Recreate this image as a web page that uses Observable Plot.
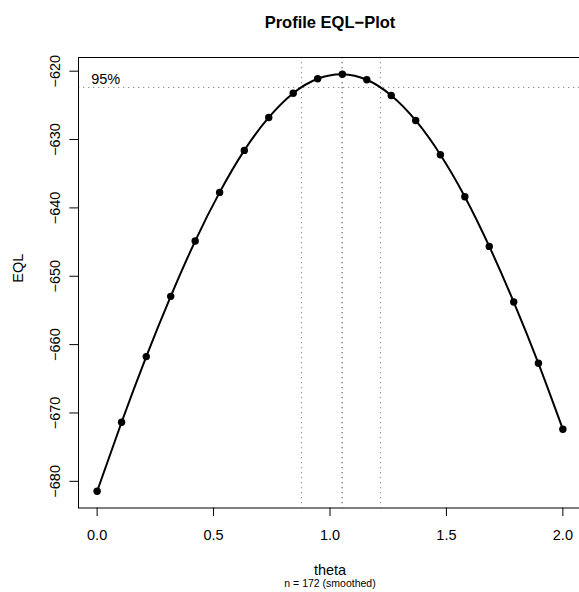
<!DOCTYPE html>
<html>
<head>
<meta charset="utf-8">
<script src="https://cdn.jsdelivr.net/npm/d3@7"></script>
<script src="https://cdn.jsdelivr.net/npm/@observablehq/plot@0.6"></script>
<style>
  html, body { margin: 0; padding: 0; background: white; overflow: hidden; }
</style>
</head>
<body>
<div id="chart"></div>
<script>
// Profile data
const theta = [0, 0.105, 0.211, 0.316, 0.421, 0.526, 0.632, 0.737, 0.842, 0.947,
               1.053, 1.158, 1.263, 1.368, 1.474, 1.579, 1.684, 1.789, 1.895, 2.0];
const eql = [-681.45, -671.36, -661.75, -652.94, -644.85, -637.73, -631.59, -626.77, -623.22, -621.11,
             -620.44, -621.26, -623.55, -627.21, -632.22, -638.36, -645.63, -653.77, -662.73, -672.38];
// Confidence interval (95%) markers
const ciLevel = -622.38;
const ciBounds = [0.878, 1.217];
const thetaHat = 1.052;
// Axis ticks
const xTicks = [0, 0.5, 1.0, 1.5, 2.0];
const yTicks = [-680, -670, -660, -650, -640, -630, -620];

const data = theta.map((t, i) => ({theta: t, eql: eql[i]}));
const font = "Liberation Sans, Arial, Helvetica, sans-serif";

const chart = Plot.plot({
  width: 579,
  height: 592,
  marginLeft: 78,
  marginTop: 57,
  marginBottom: 84.5,
  marginRight: -2,
  style: {fontFamily: font, fontSize: "14.5px", background: "white", color: "black"},
  x: {domain: [-0.08, 2.08]},
  y: {domain: [-683.9, -618.0]},
  marks: [
    // dotted reference lines
    Plot.ruleY([ciLevel], {stroke: "#8a8a8a", strokeDasharray: "1.3,3.7", strokeWidth: 1}),
    Plot.ruleX(ciBounds, {stroke: "#8a8a8a", strokeDasharray: "1.3,3.7", strokeWidth: 1}),
    Plot.ruleX([thetaHat], {stroke: "#444", strokeDasharray: "1.3,3.7", strokeWidth: 1}),
    Plot.text(["95%"], {frameAnchor: "left", y: () => ciLevel, text: d => d, dx: 12.7, dy: -3.7,
      textAnchor: "start", lineAnchor: "bottom", fontSize: 14.5}),
    // curve and points
    Plot.line(data, {x: "theta", y: "eql", curve: "natural", stroke: "black", strokeWidth: 2}),
    Plot.dot(data, {x: "theta", y: "eql", r: 3.7, fill: "black", stroke: "none"}),
    // axes
    Plot.axisX({ticks: xTicks, tickSize: 8.6, tickPadding: 13.5, tickFormat: d => d.toFixed(1),
      label: null, fontSize: 14.5}),
    Plot.axisY({ticks: yTicks, tickSize: 8.6, tickFormat: () => "", label: null}),
    Plot.text(yTicks, {frameAnchor: "left", y: d => d, text: d => "\u2212" + Math.abs(d),
      rotate: -90, dx: -19, lineAnchor: "bottom", textAnchor: "middle", fontSize: 14.5}),
    Plot.frame({stroke: "black", strokeWidth: 1}),
    // titles
    Plot.text(["Profile EQL\u2212Plot"], {frameAnchor: "top", text: d => d, dy: -30,
      lineAnchor: "bottom", fontWeight: "bold", fontSize: 16.5}),
    Plot.text(["theta"], {frameAnchor: "bottom", text: d => d, dy: 66.5, lineAnchor: "bottom", fontSize: 14.5}),
    Plot.text(["n = 172 (smoothed)"], {frameAnchor: "bottom", text: d => d, dy: 78.5, lineAnchor: "bottom", fontSize: 10.5}),
    Plot.text(["EQL"], {frameAnchor: "left", text: d => d, rotate: -90, dx: -55.3, lineAnchor: "bottom", fontSize: 14.5})
  ]
});
document.getElementById("chart").appendChild(chart);
</script>
</body>
</html>
